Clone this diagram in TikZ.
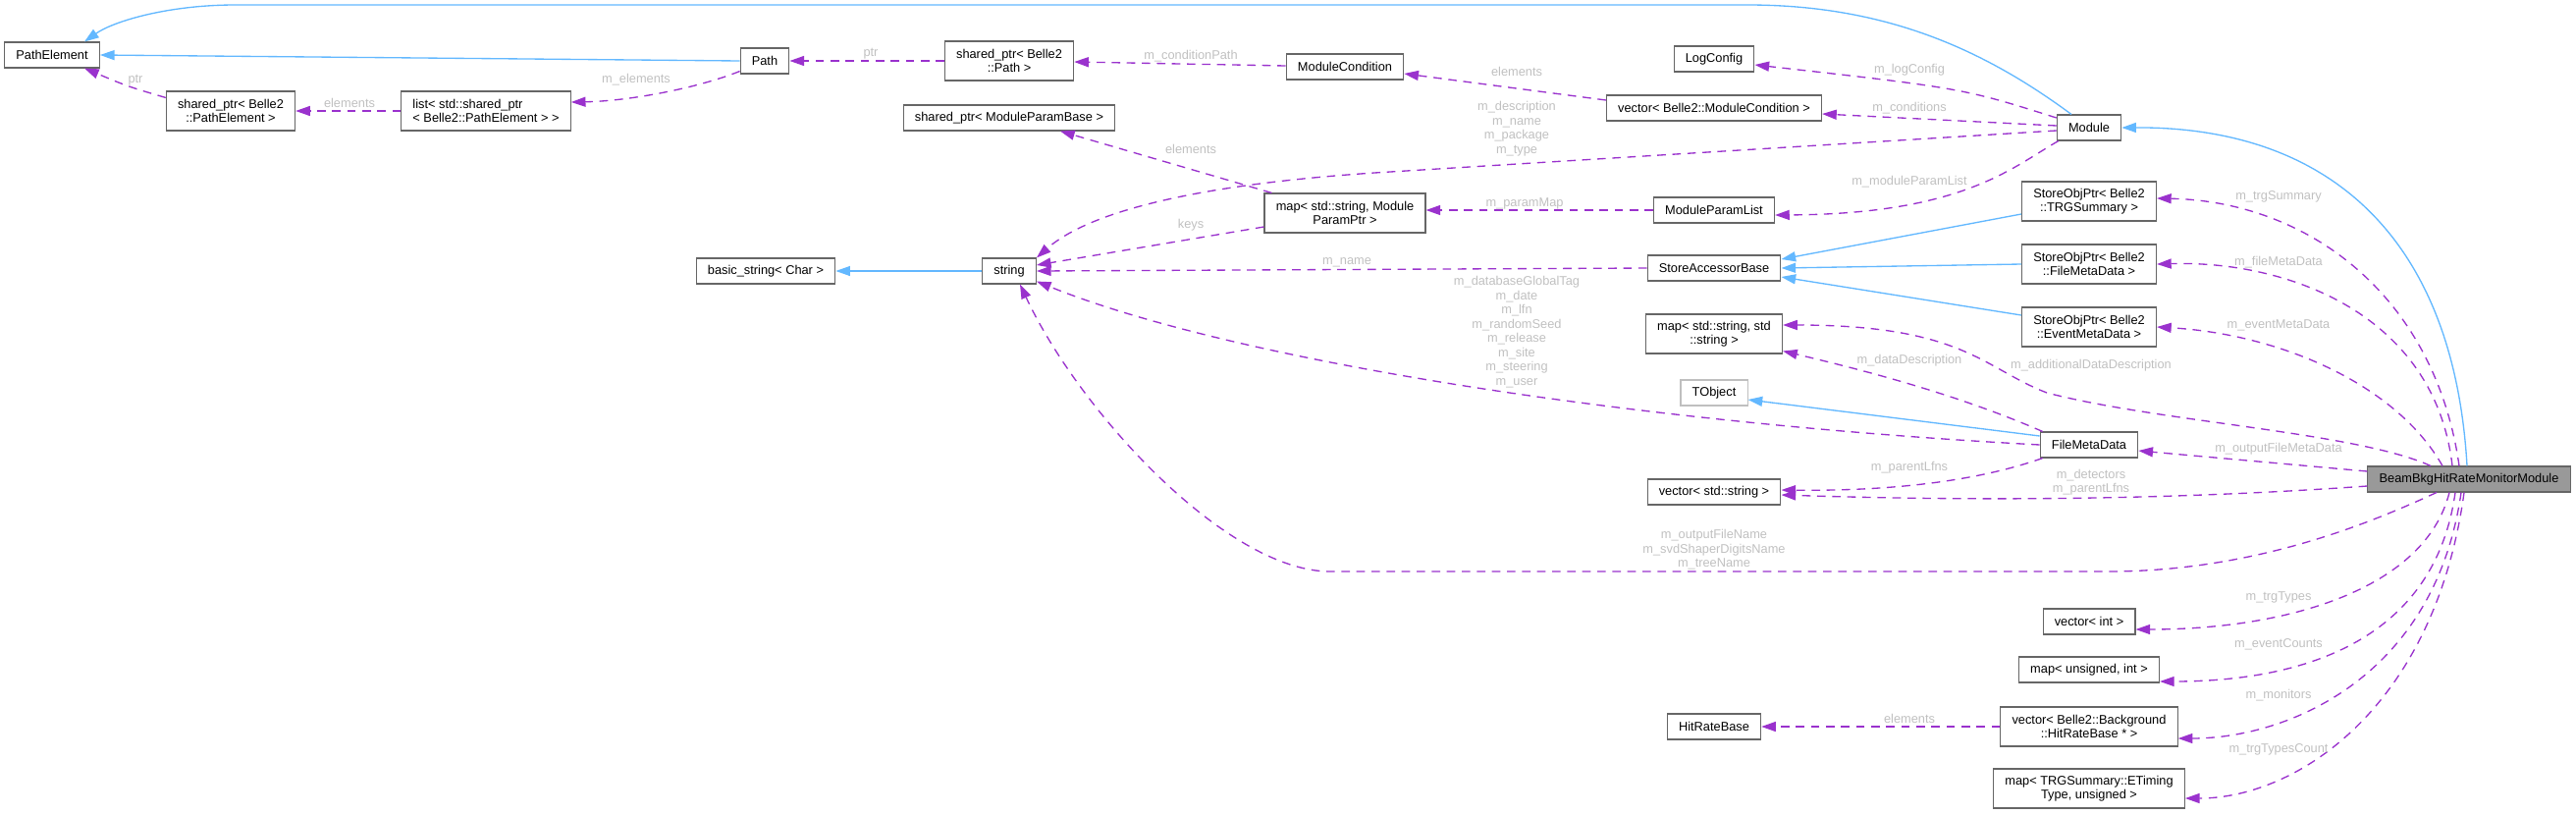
\documentclass[tikz,border=0pt]{standalone}
\usepackage{fontspec}
\setmainfont{Liberation Sans}
\usetikzlibrary{calc, arrows.meta, positioning}
\definecolor{inhblue}{HTML}{63B8FF}
\definecolor{usepurple}{HTML}{9A32CD}
\definecolor{boxgray}{HTML}{666666}
\definecolor{extgray}{HTML}{BFBFBF}
\definecolor{labelgray}{HTML}{C0C0C0}
\definecolor{focusgray}{HTML}{999999}

\begin{document}
\begin{tikzpicture}[x=0.75pt, y=-0.75pt,
    cls/.style={draw=boxgray, fill=white, line width=0.8pt, font=\fontsize{9.6}{10.8}\selectfont,
      align=center, inner xsep=8.8pt, inner ysep=0pt, minimum height=19.5pt},
    two/.style={minimum height=30pt},
    ext/.style={cls, draw=extgray},
    focus/.style={cls, fill=focusgray},
    inherit/.style={draw=inhblue, line width=1pt, -{Triangle[length=11pt, width=7.5pt]}},
    usage/.style={draw=usepurple, line width=1pt, dash pattern=on 6.5pt off 5pt,
      -{Triangle[length=11pt, width=7.5pt]}},
    elabel/.style={text=labelgray, font=\fontsize{9.6}{10.9}\selectfont, align=center, inner sep=0pt}]
  \useasboundingbox (0,0) rectangle (2624,829);

  % classes
  \node[cls] (pathelem) at (53,56) {PathElement};
  \node[cls] (path) at (779,62) {Path};
  \node[cls, two] (sppe) at (235,113) {shared\_ptr< Belle2\\::PathElement >};
  \node[cls, two, align=left] (listpe) at (495,113) {list< std::shared\_ptr\\< Belle2::PathElement > >};
  \node[cls, two] (sppath) at (1028,62) {shared\_ptr< Belle2\\::Path >};
  \node[cls] (modcond) at (1370,68) {ModuleCondition};
  \node[cls] (spmpb) at (1028,120) {shared\_ptr< ModuleParamBase >};
  \node[cls, two] (mapparam) at (1370,217) {map< std::string, Module\\ParamPtr >};
  \node[cls] (logconfig) at (1746,60) {LogConfig};
  \node[cls] (vecmc) at (1746,110) {vector< Belle2::ModuleCondition >};
  \node[cls] (module) at (2128,130) {Module};
  \node[cls] (modparlist) at (1746,214) {ModuleParamList};
  \node[cls, two] (sotrg) at (2128,205) {StoreObjPtr< Belle2\\::TRGSummary >};
  \node[cls] (basicstr) at (780,276) {basic\_string< Char >};
  \node[cls] (string) at (1028,276) {string};
  \node[cls] (sab) at (1746,273) {StoreAccessorBase};
  \node[cls, two] (sofmd) at (2128,269) {StoreObjPtr< Belle2\\::FileMetaData >};
  \node[cls, two] (mapss) at (1746,340) {map< std::string, std\\::string >};
  \node[cls, two] (soemd) at (2128,333) {StoreObjPtr< Belle2\\::EventMetaData >};
  \node[ext] (tobject) at (1746,400) {TObject};
  \node[cls] (filemeta) at (2128,453) {FileMetaData};
  \node[cls] (vecstr) at (1746,501) {vector< std::string >};
  \node[focus] (beam) at (2515,488) {BeamBkgHitRateMonitorModule};
  \node[cls] (vecint) at (2128,633) {vector< int >};
  \node[cls] (mapui) at (2128,682) {map< unsigned, int >};
  \node[cls] (hitrate) at (1746,740) {HitRateBase};
  \node[cls, two] (vechrb) at (2128,740) {vector< Belle2::Background\\::HitRateBase * >};
  \node[cls, two] (maptrg) at (2128,803) {map< TRGSummary::ETiming\\Type, unsigned >};

  % inheritance
  \draw[inherit] (path.west) -- (pathelem.east);
  \draw[inherit] ($(module.north)+(-18,0)$) .. controls (2020,50) and (1920,5) .. (1780,5)
    -- (240,5) .. controls (170,5) and (115,22) .. ($(pathelem.north)+(33,0)$);
  \draw[inherit] (string.west) -- (basicstr.east);
  \draw[inherit] ($(sotrg.west)+(0,13)$) -- ($(sab.east)+(0,-9)$);
  \draw[inherit] (sofmd.west) -- (sab.east);
  \draw[inherit] ($(soemd.west)+(0,-12)$) -- ($(sab.east)+(0,9)$);
  \draw[inherit] ($(filemeta.west)+(0,-9)$) -- ($(tobject.east)+(0,7)$);
  \draw[inherit] ($(beam.north)+(-2,0)$) .. controls (2500,250) and (2380,129) .. (module.east);

  % members
  \draw[usage] ($(sppe.north west)+(0,7)$) .. controls (130,88) .. ($(pathelem.south)+(33,0)$);
  \draw[usage] (listpe.west) -- (sppe.east);
  \draw[usage] ($(path.south west)+(0,-3)$) .. controls (710,90) and (640,103) .. ($(listpe.east)+(0,-9)$);
  \draw[usage] (sppath.west) -- (path.east);
  \draw[usage] ($(modcond.west)+(0,-1)$) -- ($(sppath.east)+(0,1)$);
  \draw[usage] ($(vecmc.west)+(0,-8)$) -- ($(modcond.east)+(0,7)$);
  \draw[usage] ($(module.west)+(0,-10)$) .. controls (2000,90) .. ($(logconfig.east)+(0,6)$);
  \draw[usage] ($(module.west)+(0,-2)$) -- ($(vecmc.east)+(0,6)$);
  \draw[usage] ($(module.west)+(0,3)$) -- (1400,176) .. controls (1220,188) and (1110,215) .. (string.north east);
  \draw[usage] ($(module.south west)+(2,0)$) .. controls (2050,170) and (2000,218) .. ($(modparlist.east)+(0,5)$);
  \draw[usage] (modparlist.west) -- ($(mapparam.east)+(0,-3)$);
  \draw[usage] ($(mapparam.north west)+(8,0)$) -- ($(spmpb.south)+(52,0)$);
  \draw[usage] ($(mapparam.west)+(0,14)$) -- ($(string.east)+(0,-6)$);
  \draw[usage] (sab.west) -- (string.east);
  \draw[usage] (filemeta.west) .. controls (1650,430) and (1250,365) .. ($(string.south east)+(0,-3)$);
  \draw[usage] ($(filemeta.north west)+(3,0)$) .. controls (1990,400) and (1890,375) .. ($(mapss.south east)+(0,-3)$);
  \draw[usage] ($(filemeta.south west)+(3,0)$) .. controls (2000,495) and (1900,500) .. ($(vecstr.east)+(0,-2)$);
  \draw[usage] ($(beam.north)+(-39,0)$) .. controls (2400,440) and (2200,430) .. (2085,400)
    .. controls (2020,375) and (2000,331) .. ($(mapss.east)+(0,-9)$);
  \draw[usage] ($(beam.west)+(0,-8)$) -- ($(filemeta.east)+(0,6)$);
  \draw[usage] ($(beam.west)+(0,7)$) .. controls (2200,510) and (2000,510) .. ($(vecstr.east)+(0,3)$);
  \draw[usage] ($(beam.south)+(-33,0)$) .. controls (2420,530) and (2300,582) .. (2147,582) -- (1355,582)
    .. controls (1250,582) and (1100,420) .. ($(string.south)+(11,0)$);
  \draw[usage] ($(beam.north)+(-10,0)$) .. controls (2480,300) and (2350,205) .. ($(sotrg.east)+(0,-3)$);
  \draw[usage] ($(beam.north)+(-17,0)$) .. controls (2480,320) and (2330,265) .. (sofmd.east);
  \draw[usage] ($(beam.north)+(-27,0)$) .. controls (2440,390) and (2320,340) .. (soemd.east);
  \draw[usage] ($(beam.south)+(-20,0)$) .. controls (2470,600) and (2330,641) .. ($(vecint.east)+(0,8)$);
  \draw[usage] ($(beam.south)+(-14,0)$) .. controls (2480,650) and (2350,694) .. ($(mapui.east)+(0,12)$);
  \draw[usage] ($(beam.south)+(-8,0)$) .. controls (2480,690) and (2330,752) .. ($(vechrb.east)+(0,12)$);
  \draw[usage] ($(beam.south)+(-5,0)$) .. controls (2480,720) and (2340,813) .. ($(maptrg.east)+(0,10)$);
  \draw[usage] (vechrb.west) -- (hitrate.east);

  % edge labels
  \node[elabel] (lptra) at (138,82) {ptr};
  \node[elabel] (lela) at (356,105) {elements};
  \node[elabel] (lmel) at (648,81) {m\_elements};
  \node[elabel] (lptrb) at (887,55) {ptr};
  \node[elabel] (lcond) at (1213,57) {m\_conditionPath};
  \node[elabel] (lelb) at (1545,73) {elements};
  \node[elabel] (ldesc) at (1545,131) {m\_description\\m\_name\\m\_package\\m\_type};
  \node[elabel] (lelc) at (1213,152) {elements};
  \node[elabel] (lpmap) at (1553,207) {m\_paramMap};
  \node[elabel] (lkeys) at (1213,229) {keys};
  \node[elabel] (llog) at (1945,71) {m\_logConfig};
  \node[elabel] (lconds) at (1945,110) {m\_conditions};
  \node[elabel] (lmpl) at (1945,185) {m\_moduleParamList};
  \node[elabel] (ltrgs) at (2321,200) {m\_trgSummary};
  \node[elabel] (lname) at (1372,267) {m\_name};
  \node[elabel] (ldb) at (1545,338) {m\_databaseGlobalTag\\m\_date\\m\_lfn\\m\_randomSeed\\m\_release\\m\_site\\m\_steering\\m\_user};
  \node[elabel] (lfmd) at (2321,267) {m\_fileMetaData};
  \node[elabel] (lemd) at (2321,331) {m\_eventMetaData};
  \node[elabel] (ldd) at (1945,367) {m\_dataDescription};
  \node[elabel] (ladd) at (2130,372) {m\_additionalDataDescription};
  \node[elabel] (lofmd) at (2321,457) {m\_outputFileMetaData};
  \node[elabel] (lplf) at (1945,476) {m\_parentLfns};
  \node[elabel] (ldet) at (2130,491) {m\_detectors\\m\_parentLfns};
  \node[elabel] (lout) at (1746,560) {m\_outputFileName\\m\_svdShaperDigitsName\\m\_treeName};
  \node[elabel] (ltt) at (2321,608) {m\_trgTypes};
  \node[elabel] (lec) at (2321,656) {m\_eventCounts};
  \node[elabel] (lmon) at (2321,708) {m\_monitors};
  \node[elabel] (lttc) at (2321,763) {m\_trgTypesCount};
  \node[elabel] (leld) at (1945,732) {elements};
\end{tikzpicture}
\end{document}
